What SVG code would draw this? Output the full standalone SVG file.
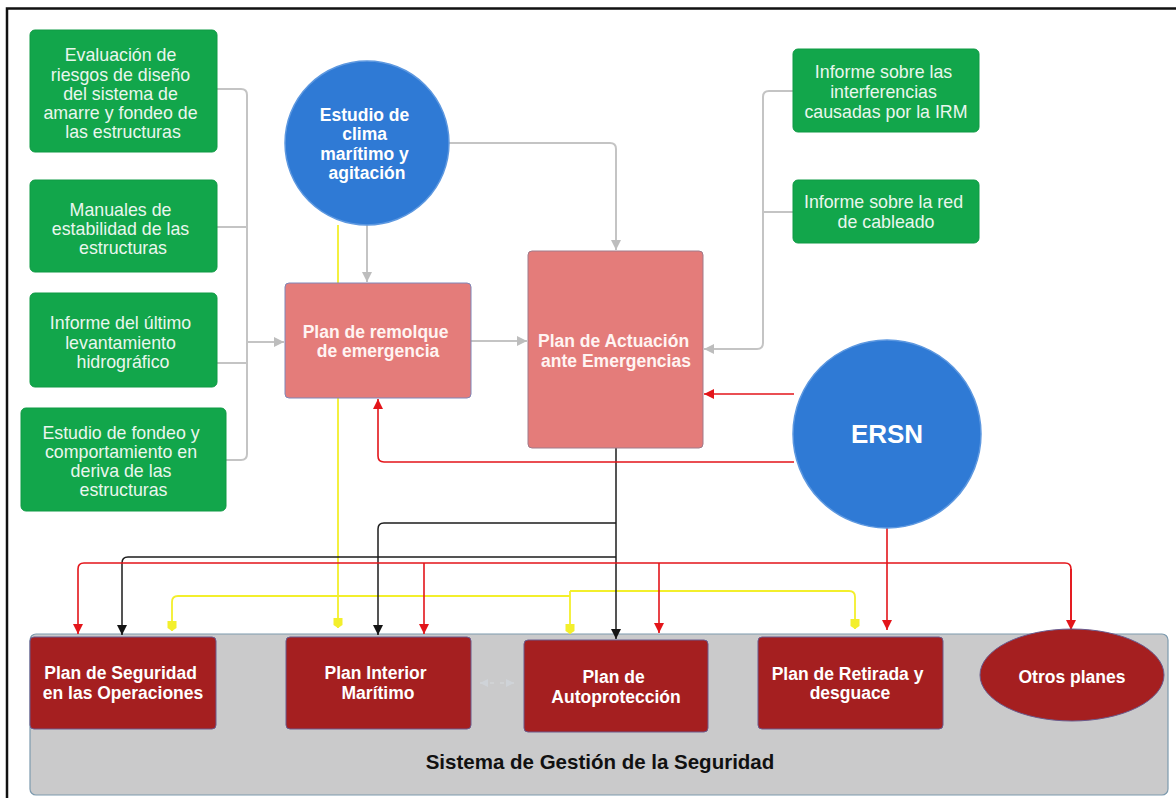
<svg xmlns="http://www.w3.org/2000/svg" width="1176" height="798" viewBox="0 0 1176 798">
  <defs>
    <marker id="arr-gray" markerUnits="userSpaceOnUse" markerWidth="12" markerHeight="12" refX="10" refY="6" orient="auto">
      <path d="M0,1 L10,6 L0,11 Z" fill="#bdbdbd"/>
    </marker>
    <marker id="arr-red" markerUnits="userSpaceOnUse" markerWidth="12" markerHeight="12" refX="10" refY="6" orient="auto">
      <path d="M0,1 L10,6 L0,11 Z" fill="#e3151a"/>
    </marker>
    <marker id="arr-black" markerUnits="userSpaceOnUse" markerWidth="12" markerHeight="12" refX="10" refY="6" orient="auto">
      <path d="M0,1 L10,6 L0,11 Z" fill="#151515"/>
    </marker>
    <marker id="arr-yellow" markerUnits="userSpaceOnUse" markerWidth="12" markerHeight="12" refX="10" refY="6" orient="auto">
      <path d="M0,1.5 L7,1.5 L10,6 L7,10.5 L0,10.5 Z" fill="#f3ef2c"/>
    </marker>
    <marker id="arr-faint" markerUnits="userSpaceOnUse" markerWidth="10" markerHeight="10" refX="8" refY="5" orient="auto-start-reverse">
      <path d="M0,1 L8,5 L0,9 Z" fill="#cfd3d8"/>
    </marker>
  </defs>
  <style>
    .frame { stroke: #111; stroke-width: 2.5; fill: none; }
    .green { fill: #12a64b; stroke: #0f9a44; stroke-width: 1; }
    .salmon { fill: #e47c7a; stroke: #7f86b8; stroke-width: 1; }
    .dark { fill: #a51f20; stroke: #6a5a8c; stroke-width: 1; }
    .blue { fill: #2f7ad5; stroke: #5d98e0; stroke-width: 1.5; }
    .panel { fill: #cacacb; stroke: #7c9aae; stroke-width: 1.2; }
    .t { font-family: "Liberation Sans", Arial, sans-serif; text-anchor: middle; }
    .tg { fill: #eaf6ee; font-size: 17.8px; }
    .tb { fill: #fff4f2; font-size: 17.5px; font-weight: bold; }
    .tc { fill: #ffffff; font-size: 17.5px; font-weight: bold; }
    .cg { stroke: #c4c4c4; stroke-width: 2; fill: none; }
    .cr { stroke: #e3151a; stroke-width: 1.6; fill: none; }
    .ck { stroke: #1c1c1c; stroke-width: 1.5; fill: none; }
    .cy { stroke: #f3ef2c; stroke-width: 1.8; fill: none; }
  </style>

  <rect width="1176" height="798" fill="#ffffff"/>
  <!-- outer frame (top and left edges) -->
  <path class="frame" d="M7,798 V8.5 H1176"/>

  <!-- safety management system panel -->
  <g id="sistema-gestion">
    <rect class="panel" x="30" y="634" width="1138" height="161" rx="6"/>
    <text class="t" x="600" y="769" font-size="20.5" font-weight="bold" fill="#111">Sistema de Gestión de la Seguridad</text>
  </g>

  <!-- connectors -->
  <g id="connectors">
    <!-- gray: source studies to emergency plans -->
    <path class="cg" d="M217,89 H241 Q247,89 247,95 V454 Q247,460 241,460 H226"/>
    <path class="cg" d="M217,227 H247"/>
    <path class="cg" d="M217,363 H247"/>
    <path class="cg" d="M247,342 H284" marker-end="url(#arr-gray)"/>
    <path class="cg" d="M367,225 V282" marker-end="url(#arr-gray)"/>
    <path class="cg" d="M449,143 H610 Q616,143 616,149 V250" marker-end="url(#arr-gray)"/>
    <path class="cg" d="M471,341 H527" marker-end="url(#arr-gray)"/>
    <path class="cg" d="M793,91 H769 Q763,91 763,97 V343 Q763,349 757,349 H704" marker-end="url(#arr-gray)"/>
    <path class="cg" d="M793,212 H763"/>

    <!-- yellow: maritime climate study to plans -->
    <path class="cy" d="M338,225 V628" marker-end="url(#arr-yellow)"/>
    <path class="cy" d="M338,596 H178 Q172,596 172,602 V631" marker-end="url(#arr-yellow)"/>
    <path class="cy" d="M338,596 H570"/>
    <path class="cy" d="M570,591 V634" marker-end="url(#arr-yellow)"/>
    <path class="cy" d="M570,591 H849 Q855,591 855,597 V629" marker-end="url(#arr-yellow)"/>

    <!-- black: emergency action plan to plans -->
    <path class="ck" d="M616,448 V639" marker-end="url(#arr-black)"/>
    <path class="ck" d="M616,523 H384 Q378,523 378,529 V635" marker-end="url(#arr-black)"/>
    <path class="ck" d="M616,557 H128 Q122,557 122,563 V635" marker-end="url(#arr-black)"/>

    <!-- red: ERSN -->
    <path class="cr" d="M794,394 H704" marker-end="url(#arr-red)"/>
    <path class="cr" d="M794,462 H384 Q378,462 378,456 V399" marker-end="url(#arr-red)"/>
    <path class="cr" d="M887,528 V563"/>
    <path class="cr" d="M1071,629 V569 Q1071,563 1065,563 H84 Q78,563 78,569 V634" marker-end="url(#arr-red)"/>
    <path class="cr" d="M1071,569 V630" marker-end="url(#arr-red)"/>
    <path class="cr" d="M424,563 V634" marker-end="url(#arr-red)"/>
    <path class="cr" d="M659,563 V633" marker-end="url(#arr-red)"/>
    <path class="cr" d="M887,563 V630" marker-end="url(#arr-red)"/>

    <!-- faint link between Plan Interior and Autoprotección -->
    <path d="M480,683 H514" stroke="#d6d9dd" stroke-width="1.2" stroke-dasharray="4 6" fill="none" marker-start="url(#arr-faint)" marker-end="url(#arr-faint)"/>
  </g>

  <!-- left input documents -->
  <g id="evaluacion-riesgos">
    <rect class="green" x="30" y="30" width="187" height="122" rx="5"/>
    <text class="t tg">
      <tspan x="123" y="61">Evaluación de</tspan>
      <tspan x="123" y="81">riesgos de diseño</tspan>
      <tspan x="123" y="100">del sistema de</tspan>
      <tspan x="123" y="119">amarre y fondeo de</tspan>
      <tspan x="123" y="138">las estructuras</tspan>
    </text>
  </g>
  <g id="manuales-estabilidad">
    <rect class="green" x="30" y="180" width="187" height="92" rx="5"/>
    <text class="t tg">
      <tspan x="123" y="216">Manuales de</tspan>
      <tspan x="123" y="235">estabilidad de las</tspan>
      <tspan x="123" y="254">estructuras</tspan>
    </text>
  </g>
  <g id="informe-levantamiento">
    <rect class="green" x="30" y="293" width="187" height="94" rx="5"/>
    <text class="t tg">
      <tspan x="123" y="329">Informe del último</tspan>
      <tspan x="123" y="349">levantamiento</tspan>
      <tspan x="123" y="368">hidrográfico</tspan>
    </text>
  </g>
  <g id="estudio-fondeo">
    <rect class="green" x="21" y="408" width="205" height="103" rx="5"/>
    <text class="t tg">
      <tspan x="123.5" y="439">Estudio de fondeo y</tspan>
      <tspan x="123.5" y="458">comportamiento en</tspan>
      <tspan x="123.5" y="477">deriva de las</tspan>
      <tspan x="123.5" y="496">estructuras</tspan>
    </text>
  </g>

  <!-- maritime climate study -->
  <g id="estudio-clima">
    <circle class="blue" cx="367" cy="143" r="82"/>
    <text class="t tc">
      <tspan x="367" y="121">Estudio de</tspan>
      <tspan x="367" y="140">clima</tspan>
      <tspan x="367" y="160">marítimo y</tspan>
      <tspan x="367" y="179">agitación</tspan>
    </text>
  </g>

  <!-- emergency plans -->
  <g id="plan-remolque">
    <rect class="salmon" x="285" y="283" width="186" height="115" rx="4"/>
    <text class="t tb">
      <tspan x="378" y="338">Plan de remolque</tspan>
      <tspan x="378" y="357">de emergencia</tspan>
    </text>
  </g>
  <g id="plan-actuacion">
    <rect class="salmon" x="528" y="251" width="175" height="197" rx="4" style="stroke:#a07a8a"/>
    <text class="t tb">
      <tspan x="616" y="347">Plan de Actuación</tspan>
      <tspan x="616" y="367">ante Emergencias</tspan>
    </text>
  </g>

  <!-- right input documents -->
  <g id="informe-interferencias">
    <rect class="green" x="793" y="49" width="186" height="83" rx="5"/>
    <text class="t tg">
      <tspan x="886" y="78">Informe sobre las</tspan>
      <tspan x="886" y="98">interferencias</tspan>
      <tspan x="886" y="118">causadas por la IRM</tspan>
    </text>
  </g>
  <g id="informe-cableado">
    <rect class="green" x="793" y="180" width="186" height="63" rx="5"/>
    <text class="t tg">
      <tspan x="886" y="208">Informe sobre la red</tspan>
      <tspan x="886" y="228">de cableado</tspan>
    </text>
  </g>

  <!-- ERSN -->
  <g id="ersn">
    <circle class="blue" cx="887" cy="434" r="94"/>
    <text class="t" x="887" y="443" font-size="26" font-weight="bold" fill="#ffffff">ERSN</text>
  </g>

  <!-- plans within the safety management system -->
  <g id="plan-seguridad">
    <rect class="dark" x="30" y="637" width="186" height="92" rx="4"/>
    <text class="t tc">
      <tspan x="123" y="679">Plan de Seguridad</tspan>
      <tspan x="123" y="699">en las Operaciones</tspan>
    </text>
  </g>
  <g id="plan-interior">
    <rect class="dark" x="286" y="637" width="185" height="92" rx="4"/>
    <text class="t tc">
      <tspan x="378" y="679">Plan Interior</tspan>
      <tspan x="378" y="699">Marítimo</tspan>
    </text>
  </g>
  <g id="plan-autoproteccion">
    <rect class="dark" x="524" y="640" width="184" height="92" rx="4"/>
    <text class="t tc">
      <tspan x="616" y="683">Plan de</tspan>
      <tspan x="616" y="703">Autoprotección</tspan>
    </text>
  </g>
  <g id="plan-retirada">
    <rect class="dark" x="758" y="637" width="185" height="92" rx="4"/>
    <text class="t tc">
      <tspan x="850" y="680">Plan de Retirada y</tspan>
      <tspan x="850" y="699">desguace</tspan>
    </text>
  </g>
  <g id="otros-planes">
    <ellipse class="dark" cx="1072" cy="675" rx="92" ry="46"/>
    <text class="t tc" x="1072" y="683">Otros planes</text>
  </g>
</svg>
